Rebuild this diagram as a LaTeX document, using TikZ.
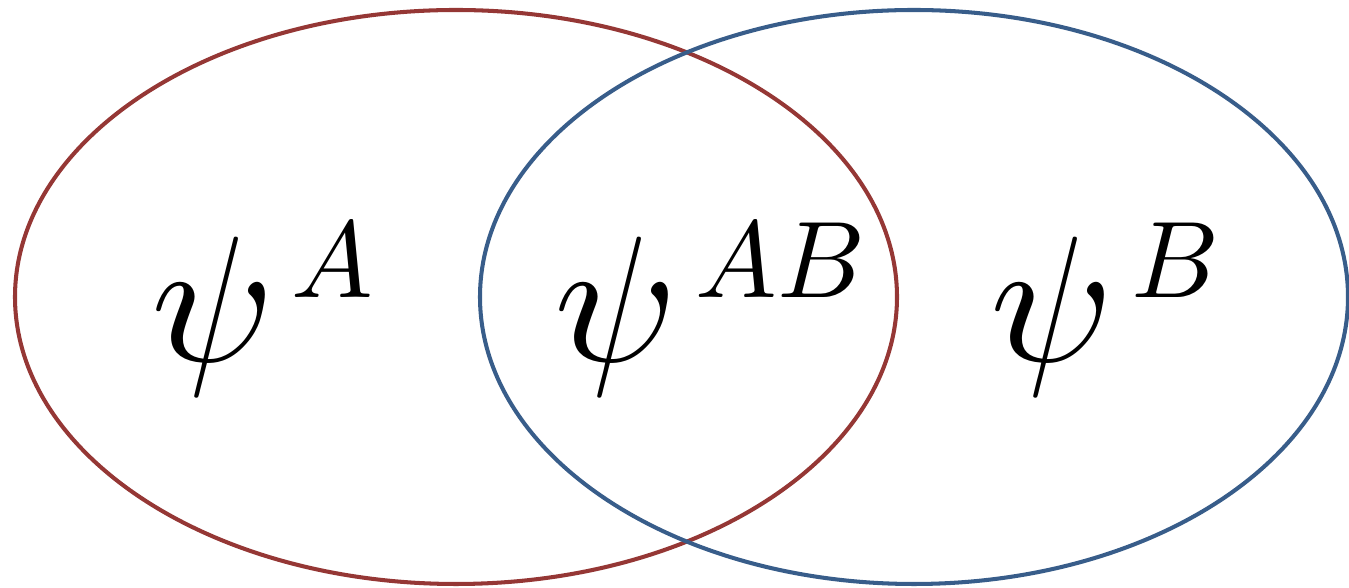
\documentclass[tikz,border=0pt]{standalone}
\usepackage{graphicx}
\usepackage{tikz}
\usepackage{xcolor}
\definecolor{setA}{HTML}{953735}
\definecolor{setB}{HTML}{385D8A}

% psi with a raised superscript label
\newcommand{\wavefn}[1]{\scalebox{10.2}{$\psi$}\kern0.35cm\raisebox{1.29cm}{\scalebox{6.2}{$#1$}}}

\begin{document}
\begin{tikzpicture}[
  setline/.style={line width=2.3pt},
  label/.style={inner sep=0pt, anchor=base},
]
\useasboundingbox (0,0) rectangle (26.98,11.76);

% Sets
\draw[setline, setA] (9.12,5.82) ellipse [x radius=8.82, y radius=5.74];
\draw[setline, setB] (18.28,5.82) ellipse [x radius=8.68, y radius=5.74];

% Labels
\node[label] (psiA) at (5.25,4.52) {\wavefn{A}};
\node[label] (psiAB) at (14.2,4.52) {\wavefn{AB}};
\node[label] (psiB) at (22.1,4.52) {\wavefn{B}};
\end{tikzpicture}
\end{document}
